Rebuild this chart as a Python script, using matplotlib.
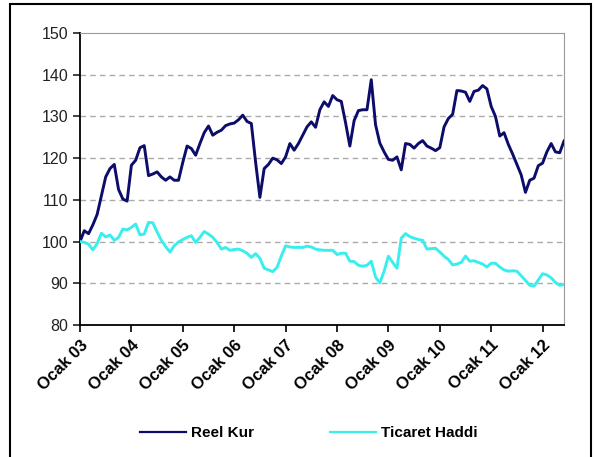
import numpy as np
import matplotlib.pyplot as plt
from matplotlib.patches import Rectangle

# monthly index, Ocak 2003 = 100
reel_kur = [
    100.0, 102.6, 101.9, 104.0, 106.5, 111.0, 115.5, 117.5, 118.5, 112.5, 110.2, 109.7,
    118.3, 119.5, 122.5, 123.0, 115.8, 116.2, 116.7, 115.5, 114.7, 115.5, 114.7, 114.7,
    119.0, 122.9, 122.3, 120.7, 123.5, 126.1, 127.7, 125.5, 126.2, 126.7, 127.8, 128.2,
    128.4, 129.2, 130.3, 128.8, 128.3, 119.0, 110.6, 117.5, 118.5, 120.0, 119.6, 118.7,
    120.3, 123.5, 121.9, 123.5, 125.5, 127.5, 128.7, 127.4, 131.6, 133.5, 132.4, 135.0,
    134.0, 133.6, 128.5, 122.9, 129.0, 131.4, 131.6, 131.6, 138.8, 128.0, 123.6, 121.5,
    119.7, 119.5, 120.3, 117.2, 123.5, 123.3, 122.4, 123.5, 124.2, 122.9, 122.4, 121.8,
    122.5, 127.5, 129.5, 130.5, 136.2, 136.1, 135.8, 133.6, 136.0, 136.3, 137.4, 136.6,
    132.4, 130.0, 125.3, 126.1, 123.3, 121.0, 118.5, 116.0, 111.8, 114.7, 115.2, 118.2,
    118.8, 121.5, 123.5, 121.5, 121.3, 124.1,
]
ticaret_haddi = [
    100.0, 99.8, 99.4, 98.0, 99.5, 102.0, 101.1, 101.6, 100.3, 101.0, 103.0, 102.8,
    103.4, 104.2, 101.6, 101.8, 104.6, 104.5, 102.3, 100.3, 98.8, 97.5, 99.0, 99.9,
    100.5, 101.0, 101.4, 99.8, 101.0, 102.4, 101.8, 101.0, 99.8, 98.2, 98.6, 97.9,
    98.1, 98.2, 97.8, 97.2, 96.2, 97.1, 96.0, 93.6, 93.2, 92.8, 93.8, 96.5,
    99.0, 98.7, 98.6, 98.6, 98.6, 98.9, 98.7, 98.2, 98.0, 97.9, 97.9, 97.9,
    96.9, 97.2, 97.2, 95.3, 95.2, 94.3, 94.1, 94.3, 95.3, 91.5, 90.1, 92.9,
    96.5, 95.0, 93.6, 100.8, 101.9, 101.2, 100.8, 100.5, 100.3, 98.2, 98.3, 98.4,
    97.5, 96.5, 95.7, 94.4, 94.6, 95.0, 96.5, 95.3, 95.4, 95.0, 94.6, 93.9,
    94.8, 94.8, 93.9, 93.2, 92.9, 93.0, 92.9, 91.8, 90.7, 89.5, 89.3, 90.8,
    92.3, 92.0, 91.3, 90.2, 89.5, 89.7,
]
tick_labels = ['Ocak 03', 'Ocak 04', 'Ocak 05', 'Ocak 06', 'Ocak 07',
               'Ocak 08', 'Ocak 09', 'Ocak 10', 'Ocak 11', 'Ocak 12']

plt.rcParams['font.family'] = ['Liberation Sans', 'DejaVu Sans']

fig = plt.figure(figsize=(5.94, 4.57), dpi=100)
ax = fig.add_axes([80 / 594, 1 - 325 / 457, 484 / 594, 292 / 457])

months = np.arange(len(reel_kur))
ax.plot(months, reel_kur, color='#0c0c6a', lw=2.1, label='Reel Kur', zorder=3)
ax.plot(months, ticaret_haddi, color='#3aeeee', lw=2.1, label='Ticaret Haddi', zorder=3)

ax.set_xlim(0, len(reel_kur) - 1)
ax.set_ylim(80, 150)
ax.set_yticks(np.arange(80, 151, 10))
ax.set_xticks(np.arange(0, 12 * len(tick_labels), 12))
ax.set_xticklabels(tick_labels, rotation=45, ha='right', rotation_mode='anchor',
                   fontsize=12, fontweight='bold')
ax.tick_params(axis='y', labelsize=11.5, length=5, width=1.2, colors='#222222')
ax.tick_params(axis='x', length=5, width=1.2, pad=4)

for y in range(90, 150, 10):
    ax.axhline(y, color='#aaaaaa', lw=1, ls=(0, (4, 3)), zorder=1)

ax.spines['left'].set_color('black')
ax.spines['bottom'].set_color('black')
ax.spines['left'].set_linewidth(1.3)
ax.spines['bottom'].set_linewidth(1.3)
ax.spines['top'].set_color('#999999')
ax.spines['right'].set_color('#999999')

leg = fig.legend(loc='center', bbox_to_anchor=(0.52, 1 - 433 / 457), ncol=2, frameon=False,
                 handlelength=3.0, columnspacing=5.0, handletextpad=0.3,
                 prop={'weight': 'bold', 'size': 11})
for line in leg.get_lines():
    line.set_linewidth(1.6)

# chart frame
fig.patches.append(Rectangle((10 / 594, -0.05), 581 / 594, 1.05 - 4 / 457,
                             transform=fig.transFigure, fill=False,
                             edgecolor='black', lw=1.5))

fig.savefig('out.png', dpi=100)
